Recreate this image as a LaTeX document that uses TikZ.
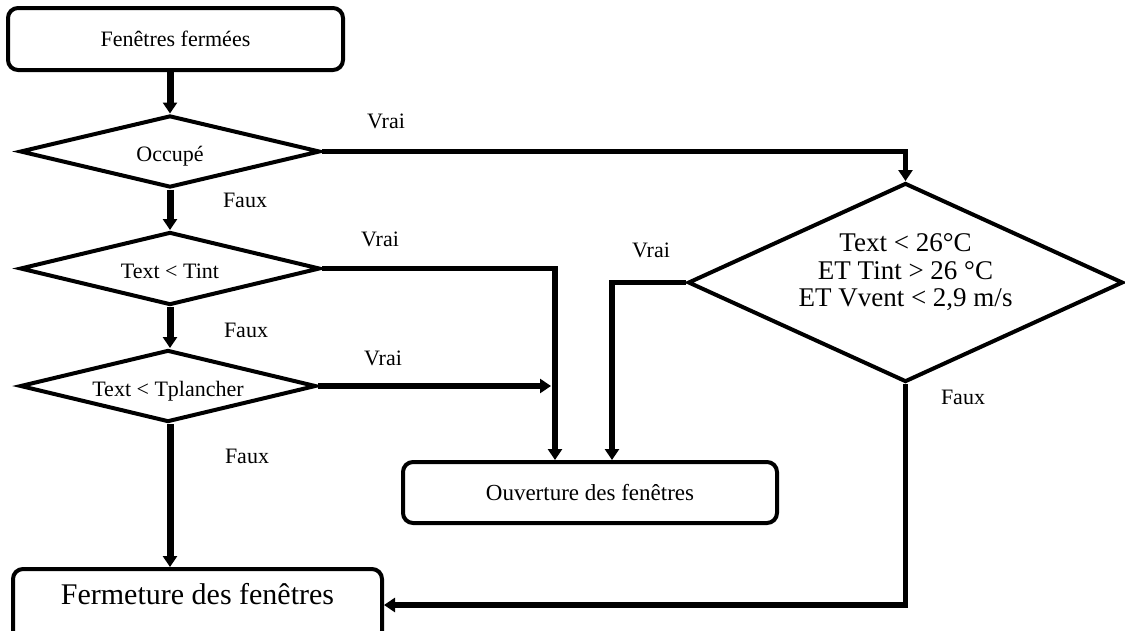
\documentclass[tikz,border=0pt]{standalone}
\usepackage{fontspec}
\setmainfont{Liberation Serif}
\usetikzlibrary{shapes.geometric,arrows.meta}
\begin{document}
\begin{tikzpicture}[x=1pt,y=-1pt,
  rbox/.style={draw,line width=4pt,rounded corners=10pt,inner sep=0pt},
  dia/.style={draw,diamond,aspect=4,line width=4pt,inner sep=0pt,minimum width=300pt,minimum height=72pt,
    font=\fontsize{22}{26}\selectfont,text height=20pt,text depth=0pt},
  conn/.style={line width=5.5pt,-{Triangle[width=14pt,length=11pt]}},
  mainconn/.style={conn,line width=7pt},
  lbl/.style={font=\fontsize{22}{26}\selectfont,inner sep=0pt},
]
\useasboundingbox (0,0) rectangle (1125,630);

% boxes
\node[rbox,minimum width=335pt,minimum height=62pt,font=\fontsize{22}{26}\selectfont] (start) at (175.5,39) {Fenêtres fermées};
\node[rbox,minimum width=374pt,minimum height=61pt,font=\fontsize{23}{27}\selectfont] (ouv) at (590,492.5) {Ouverture des fenêtres};
\node[rbox,minimum width=369pt,minimum height=72pt,font=\fontsize{30}{34}\selectfont,text height=21pt,text depth=23pt] (ferm) at (197.5,605) {Fermeture des fenêtres};

% decisions
\node[dia] (occ) at (170,151.5) {Occupé};
\node[dia,minimum height=73pt] (tint) at (170,268.5) {Text < Tint};
\node[dia,minimum width=296pt] (tpl) at (168,386) {Text < Tplancher};
\node[draw,diamond,line width=4pt,inner sep=0pt,minimum width=435pt,minimum height=199pt,
  label={[font=\fontsize{27}{27.5}\selectfont,align=center,yshift=10pt]center:{Text < 26°C\\ET Tint > 26 °C\\ET Vvent < 2,9 m/s}}] (big) at (905.5,282.5) {};

% helper coordinates
\coordinate (a1) at (555,0);
\coordinate (a2) at (612,0);
\coordinate (a3) at (551,0);

% connectors
\draw[mainconn] (start.south -| occ.north) -- (occ.north);
\draw[mainconn] (occ.south) -- (tint.north);
\draw[mainconn] (tint.south) -- (tint.south |- tpl.north);
\draw[mainconn] (tpl.south -| occ.south) -- (ferm.north -| occ.south);
\draw[conn] (occ.east) -| (big.north);
\draw[conn] (tint.east) -| (ouv.north -| a1);
\draw[conn] (tpl.east) -- (tpl.east -| a3);
\draw[conn] (big.west) -| (ouv.north -| a2);
\draw[conn] (big.south) |- (ferm.east);

% labels
\node[lbl] (v1) at (386,121) {Vrai};
\node[lbl] (f1) at (245,200) {Faux};
\node[lbl] (v2) at (380,239) {Vrai};
\node[lbl] (f2) at (246,330) {Faux};
\node[lbl] (v3) at (383,358) {Vrai};
\node[lbl] (f3) at (247,456) {Faux};
\node[lbl] (v4) at (651,250) {Vrai};
\node[lbl] (f4) at (963,397) {Faux};
\end{tikzpicture}
\end{document}
